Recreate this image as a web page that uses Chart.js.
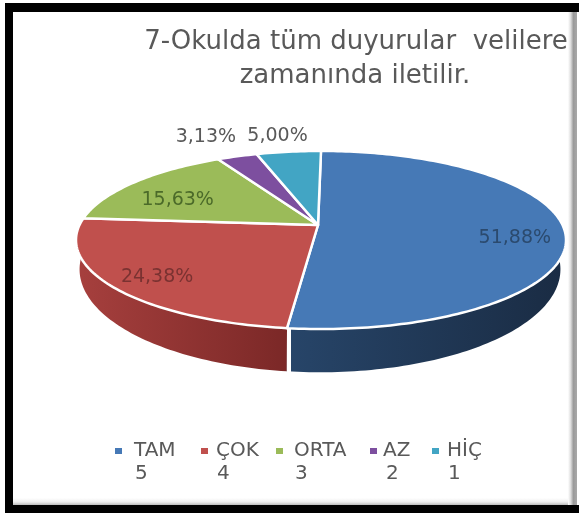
<!DOCTYPE html>
<html>
<head>
<meta charset="utf-8">
<script src="https://cdn.jsdelivr.net/npm/chart.js@4"></script>
<style>
  html, body { margin: 0; padding: 0; background: #fff; }
  #wrap { position: relative; width: 579px; height: 513px; overflow: hidden; }
  #frame { position: absolute; left: 5px; top: 3px; width: 574px; height: 510px; background: #000; }
  #paper { position: absolute; left: 13px; top: 12px; width: 559px; height: 493px; background: linear-gradient(to top, #bbb 0, #eee 3px, #fff 7px); }
  #edge { position: absolute; left: 568px; top: 12px; width: 9px; height: 493px; background: linear-gradient(to right, #fff 0, #ddd 30%, #9a9a9a 60%, #a8a8a8 100%); }
  #gap { position: absolute; left: 577px; top: 12px; width: 2px; height: 493px; background: #fff; }
  canvas { position: absolute; left: 0; top: 0; filter: blur(0.6px); }
</style>
</head>
<body>
<div id="wrap">
  <div id="frame"></div>
  <div id="paper"></div>
  <div id="edge"></div>
  <div id="gap"></div>
  <canvas id="chart" width="579" height="513"></canvas>
</div>
<script>
const titleLines = ["7-Okulda tüm duyurular  velilere", "zamanında iletilir."];
const categories = ["TAM", "ÇOK", "ORTA", "AZ", "HİÇ"];
const levels = ["5", "4", "3", "2", "1"];
const values = [51.88, 24.38, 15.63, 3.13, 5.0];

const faceColors = ["#4679b6", "#c0504d", "#9bbb59", "#7d4f9f", "#42a5c4"];
const wallColors = [
  ["#274569", "#1a2c44"],
  ["#a53f3d", "#7b2827"],
  ["#6f8a3d", "#6f8a3d"],
  ["#5a3a75", "#5a3a75"],
  ["#2f7a90", "#2f7a90"]
];
const labelColors = ["#2b4a6e", "#7a3231", "#4b6a29", "#595959", "#595959"];
/* radial place of each data label, 1 = on the rim, and a small nudge */
const labelRadius = [0.8, 0.8, 0.72, 1.35, 1.3];
const labelNudge = [[0, 9], [0, 4], [-5, 7], [-8, 1], [-4, 2]];
const labelFontSize = 19;

/* legend places */
const legendMarkX = [118, 204, 279, 373, 435];
const legendTextX = [134, 216, 294, 383, 447];
const legendNumX = [135, 217, 295, 386, 448];

/* the pie is seen in perspective, so the apex is not the middle of the ellipse */
const top3d = { x: 318, y: 225, a: 241.5, b: 86.5, k: 0.1685, s: 3 };
const bottom3d = { x: 319, y: 252, a: 237, b: 100, k: 0.1685, s: 1 };

function project(p, angle, r) {
  const u = Math.cos(angle) * r;
  const v = -Math.sin(angle) * r;
  const w = 1 + p.k * v;
  return { x: p.x + p.s * r + (p.a * u) / w, y: p.y - (p.b * v) / w };
}

function tracePath(ctx, start, end) {
  const steps = Math.max(2, Math.ceil((end - start) / 0.02));
  ctx.beginPath();
  const apex = project(top3d, 0, 0);
  ctx.moveTo(apex.x, apex.y);
  for (let i = 0; i <= steps; i += 1) {
    const pt = project(top3d, start + ((end - start) * i) / steps, 1);
    ctx.lineTo(pt.x, pt.y);
  }
  ctx.closePath();
}

/* slice drawn on the perspective face instead of a flat circle */
class Arc3d extends Chart.ArcElement {
  draw(ctx) {
    const { startAngle, endAngle } = this.getProps(["startAngle", "endAngle"]);
    ctx.save();
    tracePath(ctx, startAngle, endAngle);
    ctx.fillStyle = this.options.backgroundColor;
    ctx.fill();
    ctx.strokeStyle = this.options.borderColor;
    ctx.lineWidth = this.options.borderWidth;
    ctx.lineJoin = "round";
    ctx.stroke();
    ctx.restore();
  }
}
Arc3d.id = "arc3d";
Arc3d.defaults = Chart.ArcElement.defaults;
Arc3d.defaultRoutes = Chart.ArcElement.defaultRoutes;

class Pie3dController extends Chart.PieController {}
Pie3dController.id = "pie3d";
Pie3dController.defaults = Object.assign({}, Chart.PieController.defaults, {
  dataElementType: "arc3d"
});
Pie3dController.overrides = Chart.PieController.overrides;

Chart.register(Arc3d, Pie3dController);

const wallsPlugin = {
  id: "walls",
  beforeDatasetsDraw(chart) {
    const { ctx } = chart;
    const arcs = chart.getDatasetMeta(0).data;
    const lo = Math.PI * -0.02;
    const hi = Math.PI * 1.02;
    arcs.forEach((arc, i) => {
      const start = Math.max(arc.startAngle, lo);
      const end = Math.min(arc.endAngle, hi);
      if (end <= start) {
        return;
      }
      const steps = Math.ceil((end - start) / 0.02);
      const first = project(top3d, start, 1);
      const last = project(top3d, end, 1);
      const grad = ctx.createLinearGradient(
        Math.min(first.x, last.x), 0, Math.max(first.x, last.x), 0
      );
      grad.addColorStop(0, wallColors[i][0]);
      grad.addColorStop(1, wallColors[i][1]);
      ctx.save();
      ctx.beginPath();
      for (let s = 0; s <= steps; s += 1) {
        const pt = project(top3d, start + ((end - start) * s) / steps, 1);
        if (s === 0) {
          ctx.moveTo(pt.x, pt.y);
        } else {
          ctx.lineTo(pt.x, pt.y);
        }
      }
      for (let s = steps; s >= 0; s -= 1) {
        const pt = project(bottom3d, start + ((end - start) * s) / steps, 1);
        ctx.lineTo(pt.x, pt.y);
      }
      ctx.closePath();
      ctx.fillStyle = grad;
      ctx.fill();
      ctx.restore();
    });

    /* white seam between the two front walls */
    const seamTop = project(top3d, arcs[0].endAngle, 1);
    const seamBottom = project(bottom3d, arcs[0].endAngle, 1);
    ctx.save();
    ctx.strokeStyle = "#ffffff";
    ctx.lineWidth = 4;
    ctx.beginPath();
    ctx.moveTo(seamTop.x + 2, seamTop.y);
    ctx.lineTo(seamTop.x + 2, seamBottom.y + 3);
    ctx.stroke();
    ctx.restore();
  }
};

const textPlugin = {
  id: "texts",
  afterDatasetsDraw(chart) {
    const { ctx } = chart;
    const arcs = chart.getDatasetMeta(0).data;
    ctx.save();
    ctx.textBaseline = "middle";

    /* title */
    ctx.textAlign = "center";
    ctx.fillStyle = "#595959";
    ctx.font = '26px "DejaVu Sans"';
    ctx.fillText(titleLines[0], 356, 42);
    ctx.fillText(titleLines[1], 355, 76);

    /* data labels */
    ctx.font = `${labelFontSize}px "DejaVu Sans"`;
    arcs.forEach((arc, i) => {
      const mid = (arc.startAngle + arc.endAngle) / 2;
      const pt = project(top3d, mid, labelRadius[i]);
      ctx.fillStyle = labelColors[i];
      ctx.fillText(
        `${values[i].toFixed(2).replace(".", ",")}%`,
        pt.x + labelNudge[i][0],
        pt.y + labelNudge[i][1]
      );
    });

    /* legend */
    ctx.textAlign = "left";
    ctx.font = '20px "DejaVu Sans"';
    categories.forEach((name, i) => {
      ctx.fillStyle = faceColors[i];
      ctx.fillRect(legendMarkX[i] - 3, 448, 7, 6);
      ctx.fillStyle = "#595959";
      ctx.fillText(name, legendTextX[i], 451);
      ctx.fillText(levels[i], legendNumX[i], 474);
    });
    ctx.restore();
  }
};

new Chart(document.getElementById("chart"), {
  type: "pie3d",
  data: {
    labels: categories,
    datasets: [
      {
        data: values,
        backgroundColor: faceColors,
        borderColor: "#ffffff",
        borderWidth: 2.5
      }
    ]
  },
  options: {
    responsive: false,
    animation: false,
    plugins: {
      legend: { display: false },
      title: { display: false },
      tooltip: { enabled: false }
    }
  },
  plugins: [wallsPlugin, textPlugin]
});
</script>
</body>
</html>
